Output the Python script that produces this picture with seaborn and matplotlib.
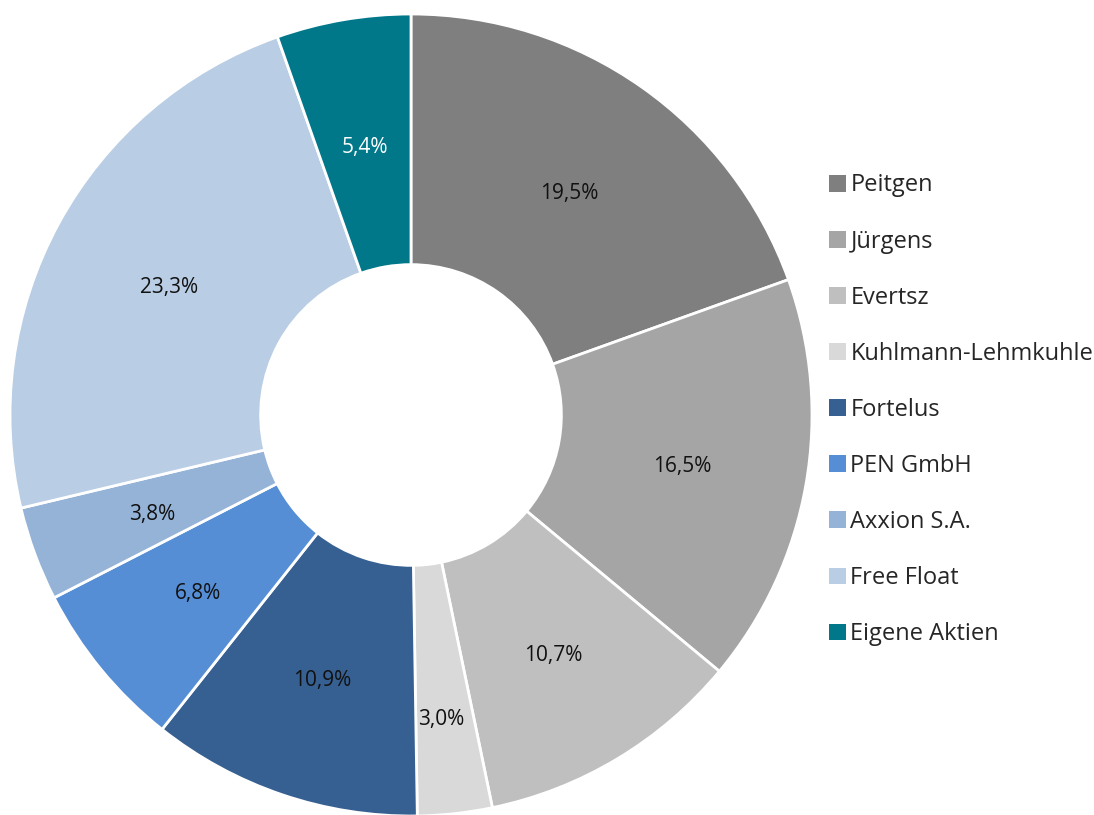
import numpy as np
import pandas as pd
import matplotlib.pyplot as plt
import seaborn as sns
from matplotlib.patches import Patch

# Shareholder structure (percent)
holders = ['Peitgen', 'Jürgens', 'Evertsz', 'Kuhlmann-Lehmkuhle', 'Fortelus',
           'PEN GmbH', 'Axxion S.A.', 'Free Float', 'Eigene Aktien']
shares = [19.5, 16.5, 10.7, 3.0, 10.9, 6.8, 3.8, 23.3, 5.4]
colors = ['#7F7F7F', '#A5A5A5', '#BFBFBF', '#D9D9D9', '#376092',
          '#558ED5', '#95B3D7', '#B9CDE5', '#00788A']
label_colors = ['#111111'] * 8 + ['white']

df = pd.DataFrame({'holder': holders, 'share': shares, 'color': colors})

sns.set_theme(style='white')
plt.rcParams['font.family'] = ['Open Sans', 'DejaVu Sans']

fig = plt.figure(figsize=(10.94, 8.15), dpi=100)
ax = fig.add_axes([(411 - 401) / 1094, (400 - 401) / 815, 802 / 1094, 802 / 815])

wedges, _ = ax.pie(df['share'], colors=df['color'], startangle=90, counterclock=False,
                   radius=1.0, wedgeprops=dict(width=0.625, edgecolor='white', linewidth=2))

# percent labels at ring middle
total = df['share'].sum()
cum = np.cumsum(df['share']) - df['share'] / 2
for i, (c, v) in enumerate(zip(cum, df['share'])):
    ang = np.deg2rad(90 - 360 * c / total)
    r = 0.6875 if holders[i] != 'Kuhlmann-Lehmkuhle' else 0.755
    ax.text(r * np.cos(ang) - (0.008 if r > 0.7 else 0), r * np.sin(ang) - 0.01,
            f'{v:.1f}%'.replace('.', ','),
            ha='center', va='center', fontsize=15, color=label_colors[i])
ax.set_aspect('equal')
ax.set_xlim(-1, 1)
ax.set_ylim(-1, 1)
ax.axis('off')

handles = [Patch(facecolor=c, edgecolor='none') for c in colors]
fig.legend(handles, holders, loc='upper left', bbox_to_anchor=(820 / 1094, 1 - 164 / 815),
           frameon=False, fontsize=17, handlelength=0.72, handleheight=0.72,
           handletextpad=0.17, labelspacing=1.36, borderaxespad=0)

fig.savefig('out.png', dpi=100, facecolor='white')
